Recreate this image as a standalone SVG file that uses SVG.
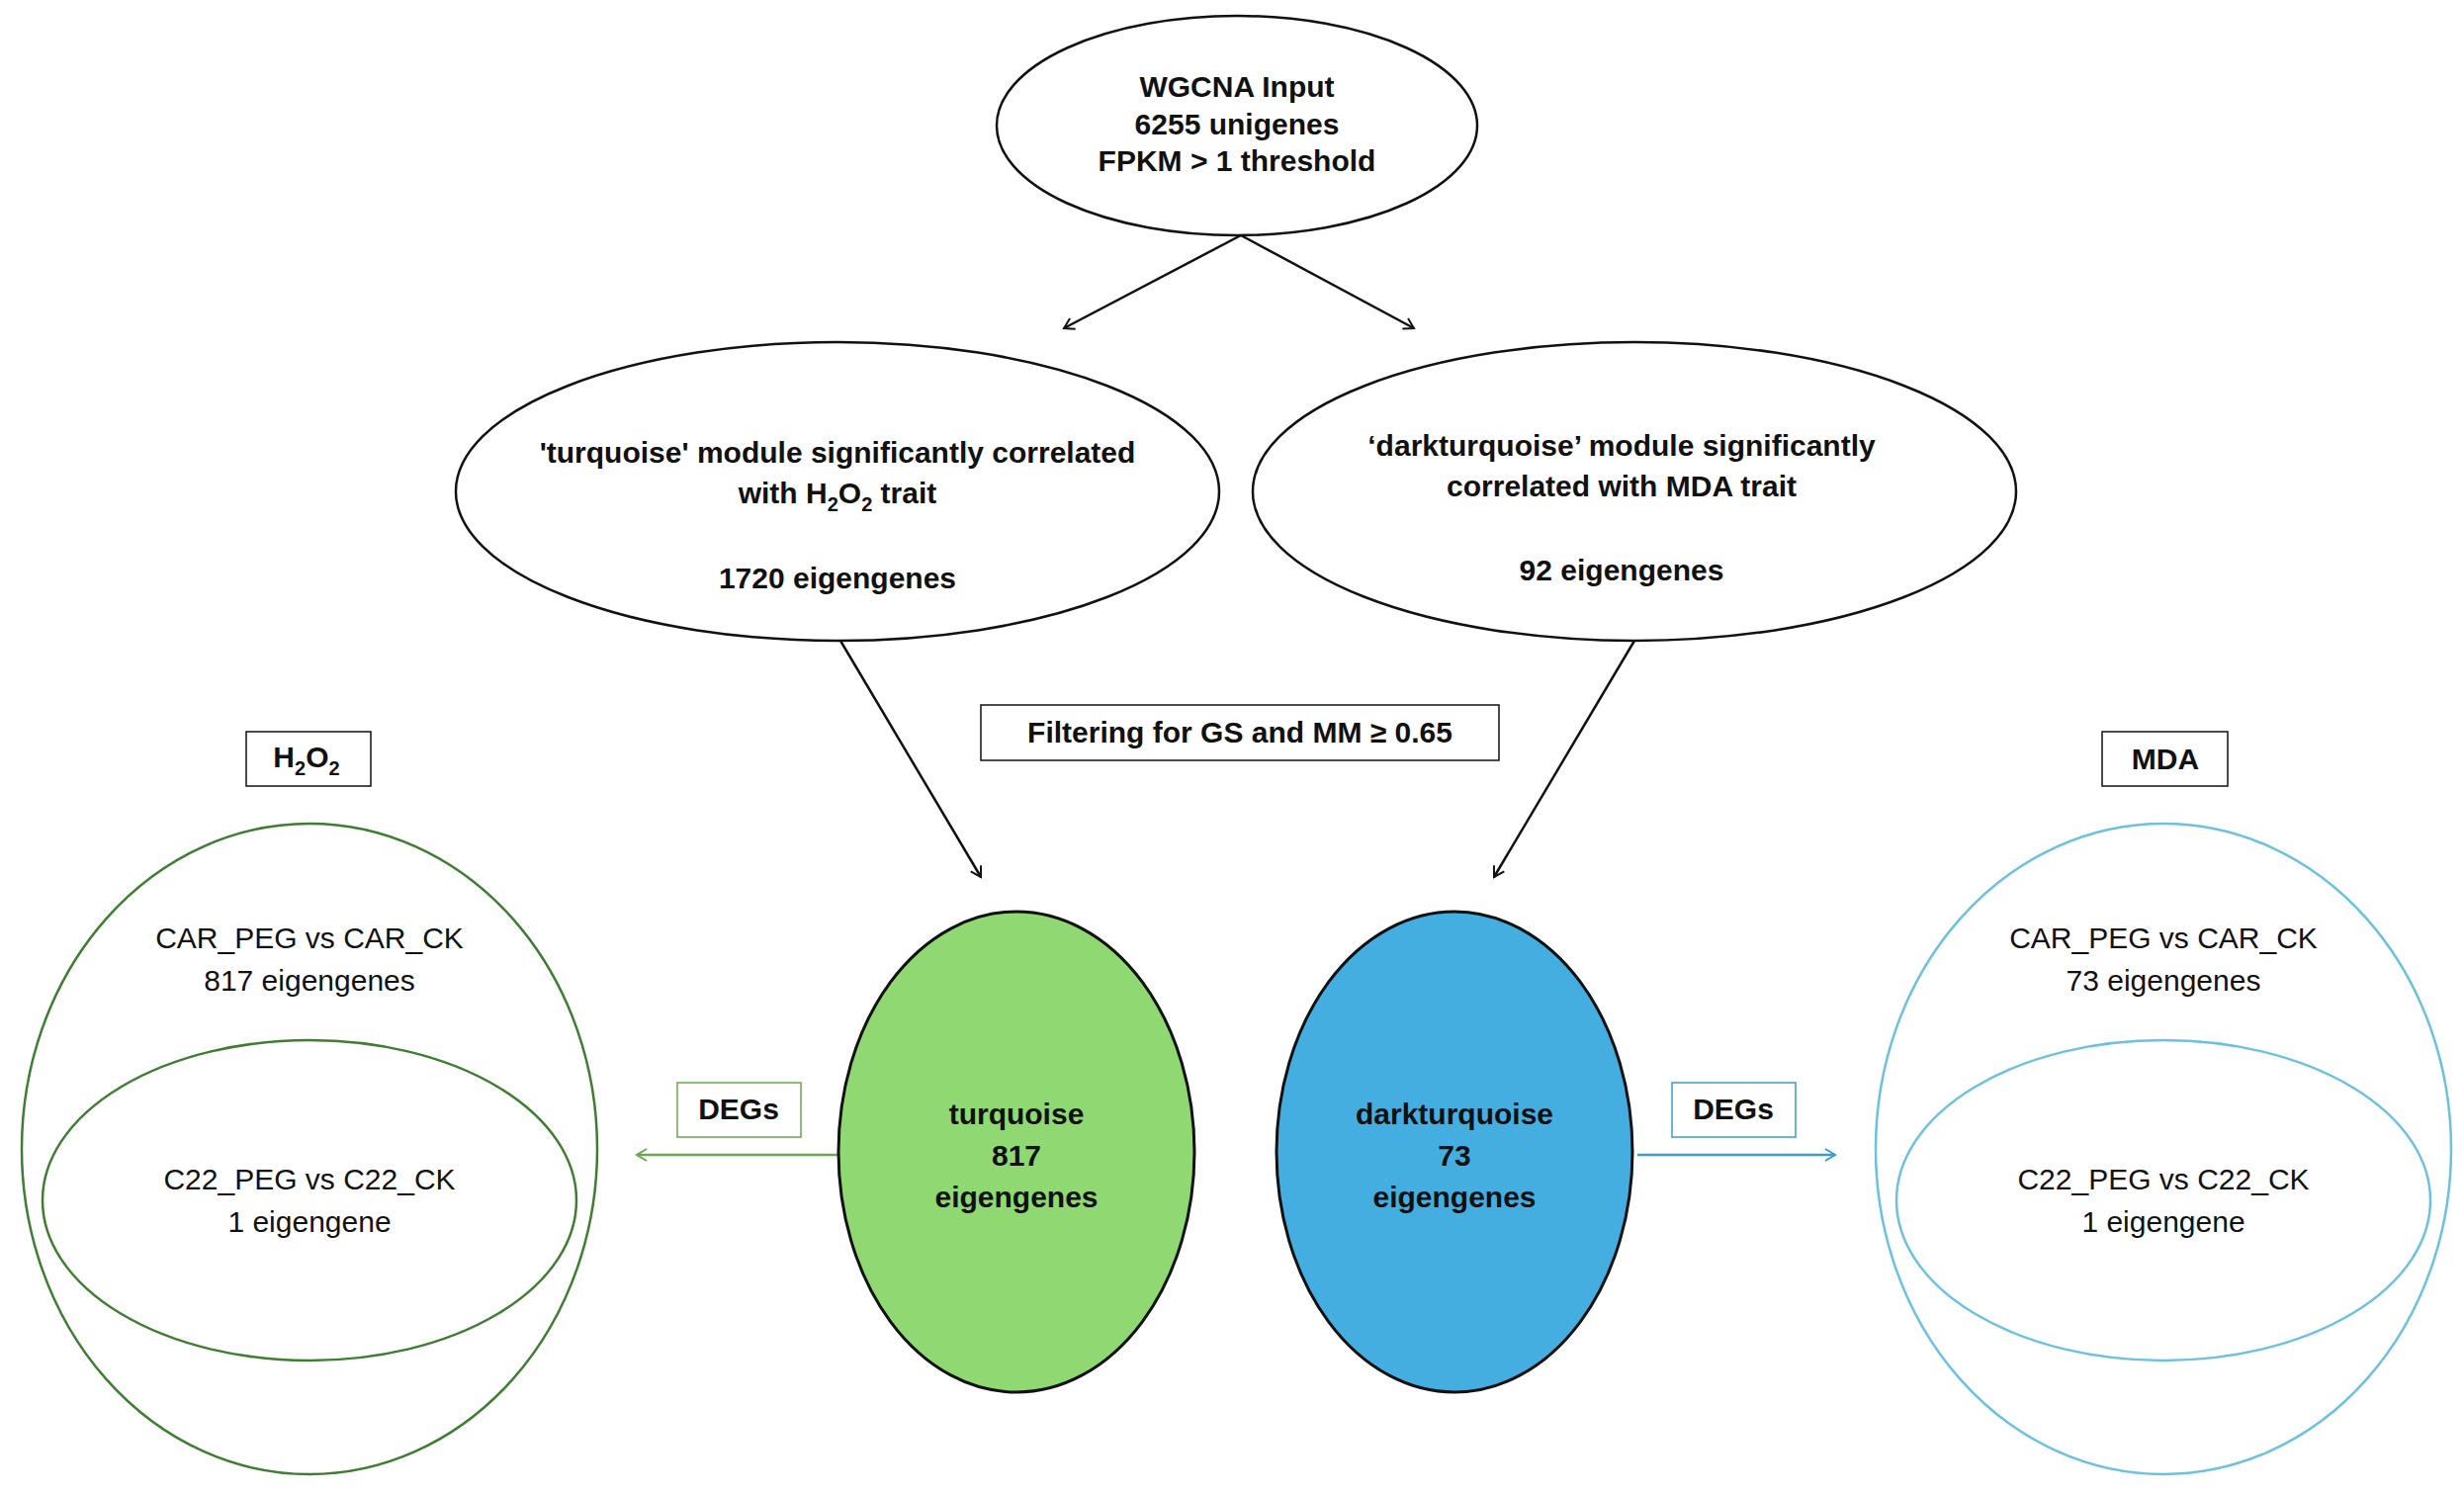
<svg xmlns="http://www.w3.org/2000/svg" width="2492" height="1511" viewBox="0 0 2492 1511">
<style>
text{font-family:"Liberation Sans",Arial,sans-serif;font-size:30px;text-anchor:middle;fill:#111}
.b{font-weight:bold}
.e{fill:#fff;stroke:#111;stroke-width:2.5}
</style>
<defs>
<marker id="ak" markerWidth="14" markerHeight="14" refX="11" refY="7" orient="auto" markerUnits="userSpaceOnUse"><path d="M1,1 L11,7 L1,13" fill="none" stroke="#111" stroke-width="2"/></marker>
<marker id="ag" markerWidth="14" markerHeight="14" refX="11" refY="7" orient="auto" markerUnits="userSpaceOnUse"><path d="M1,1 L11,7 L1,13" fill="none" stroke="#6aa84f" stroke-width="2"/></marker>
<marker id="ab" markerWidth="14" markerHeight="14" refX="11" refY="7" orient="auto" markerUnits="userSpaceOnUse"><path d="M1,1 L11,7 L1,13" fill="none" stroke="#3a9cc8" stroke-width="2"/></marker>
</defs>
<rect width="2492" height="1511" fill="#fff"/>
<g id="connectors" fill="none" stroke-width="2.5">
<line x1="1255" y1="238" x2="1076" y2="332" stroke="#111" marker-end="url(#ak)"/>
<line x1="1255" y1="238" x2="1430" y2="332" stroke="#111" marker-end="url(#ak)"/>
<line x1="850" y1="648" x2="992" y2="887" stroke="#111" marker-end="url(#ak)"/>
<line x1="1653" y1="648" x2="1511" y2="887" stroke="#111" marker-end="url(#ak)"/>
<line x1="847" y1="1168" x2="644" y2="1168" stroke="#6aa84f" marker-end="url(#ag)"/>
<line x1="1656" y1="1168" x2="1856" y2="1168" stroke="#3a9cc8" marker-end="url(#ab)"/>
</g>
<g id="wgcna"><ellipse class="e" cx="1251" cy="127" rx="243" ry="111"/>
<text class="b" x="1251" y="98">WGCNA Input</text><text class="b" x="1251" y="136">6255 unigenes</text><text class="b" x="1251" y="173">FPKM &gt; 1 threshold</text></g>
<g id="turq-module"><ellipse class="e" cx="847" cy="497" rx="386" ry="151"/>
<text class="b" x="847" y="468">'turquoise' module significantly correlated</text>
<text class="b" x="847" y="509">with H<tspan font-size="20" dy="8">2</tspan><tspan dy="-8">O</tspan><tspan font-size="20" dy="8">2</tspan><tspan dy="-8"> trait</tspan></text>
<text class="b" x="847" y="595">1720 eigengenes</text></g>
<g id="dark-module"><ellipse class="e" cx="1653" cy="497" rx="386" ry="151"/>
<text class="b" x="1640" y="461">‘darkturquoise’ module significantly</text>
<text class="b" x="1640" y="502">correlated with MDA trait</text>
<text class="b" x="1640" y="587">92 eigengenes</text></g>
<g id="filter"><rect x="992" y="713" width="524" height="56" fill="#fff" stroke="#111" stroke-width="1.5"/><text class="b" x="1254" y="751">Filtering for GS and MM ≥ 0.65</text></g>
<g id="h2o2-label"><rect x="249" y="740" width="126" height="55" fill="#fff" stroke="#111" stroke-width="1.5"/><text class="b" x="310" y="776">H<tspan font-size="20" dy="8">2</tspan><tspan dy="-8">O</tspan><tspan font-size="20" dy="8">2</tspan></text></g>
<g id="mda-label"><rect x="2126" y="740" width="127" height="55" fill="#fff" stroke="#111" stroke-width="1.5"/><text class="b" x="2190" y="778">MDA</text></g>
<g id="turquoise"><ellipse cx="1028" cy="1165" rx="180" ry="243" fill="#8fd872" stroke="#111" stroke-width="3"/>
<text class="b" x="1028" y="1137">turquoise</text><text class="b" x="1028" y="1179">817</text><text class="b" x="1028" y="1221">eigengenes</text></g>
<g id="darkturquoise"><ellipse cx="1471" cy="1165" rx="180" ry="243" fill="#45aee0" stroke="#111" stroke-width="3"/>
<text class="b" x="1471" y="1137">darkturquoise</text><text class="b" x="1471" y="1179">73</text><text class="b" x="1471" y="1221">eigengenes</text></g>
<g id="degs-left"><rect x="685" y="1095" width="125" height="55" fill="#fff" stroke="#6aa84f" stroke-width="1.5"/><text class="b" x="747" y="1132">DEGs</text></g>
<g id="degs-right"><rect x="1691" y="1095" width="125" height="55" fill="#fff" stroke="#3a9cc8" stroke-width="1.5"/><text class="b" x="1753" y="1132">DEGs</text></g>
<g id="h2o2-venn" fill="none" stroke="#3e7d32" stroke-width="2.5"><ellipse cx="313" cy="1162" rx="291" ry="329"/><ellipse cx="313" cy="1214" rx="270" ry="162"/>
<text x="313" y="959" stroke="none">CAR_PEG vs CAR_CK</text><text x="313" y="1002" stroke="none">817 eigengenes</text>
<text x="313" y="1203" stroke="none">C22_PEG vs C22_CK</text><text x="313" y="1246" stroke="none">1 eigengene</text></g>
<g id="mda-venn" fill="none" stroke="#6cc0e0" stroke-width="2.5"><ellipse cx="2188" cy="1162" rx="291" ry="329"/><ellipse cx="2188" cy="1214" rx="270" ry="162"/>
<text x="2188" y="959" stroke="none">CAR_PEG vs CAR_CK</text><text x="2188" y="1002" stroke="none">73 eigengenes</text>
<text x="2188" y="1203" stroke="none">C22_PEG vs C22_CK</text><text x="2188" y="1246" stroke="none">1 eigengene</text></g>
</svg>
